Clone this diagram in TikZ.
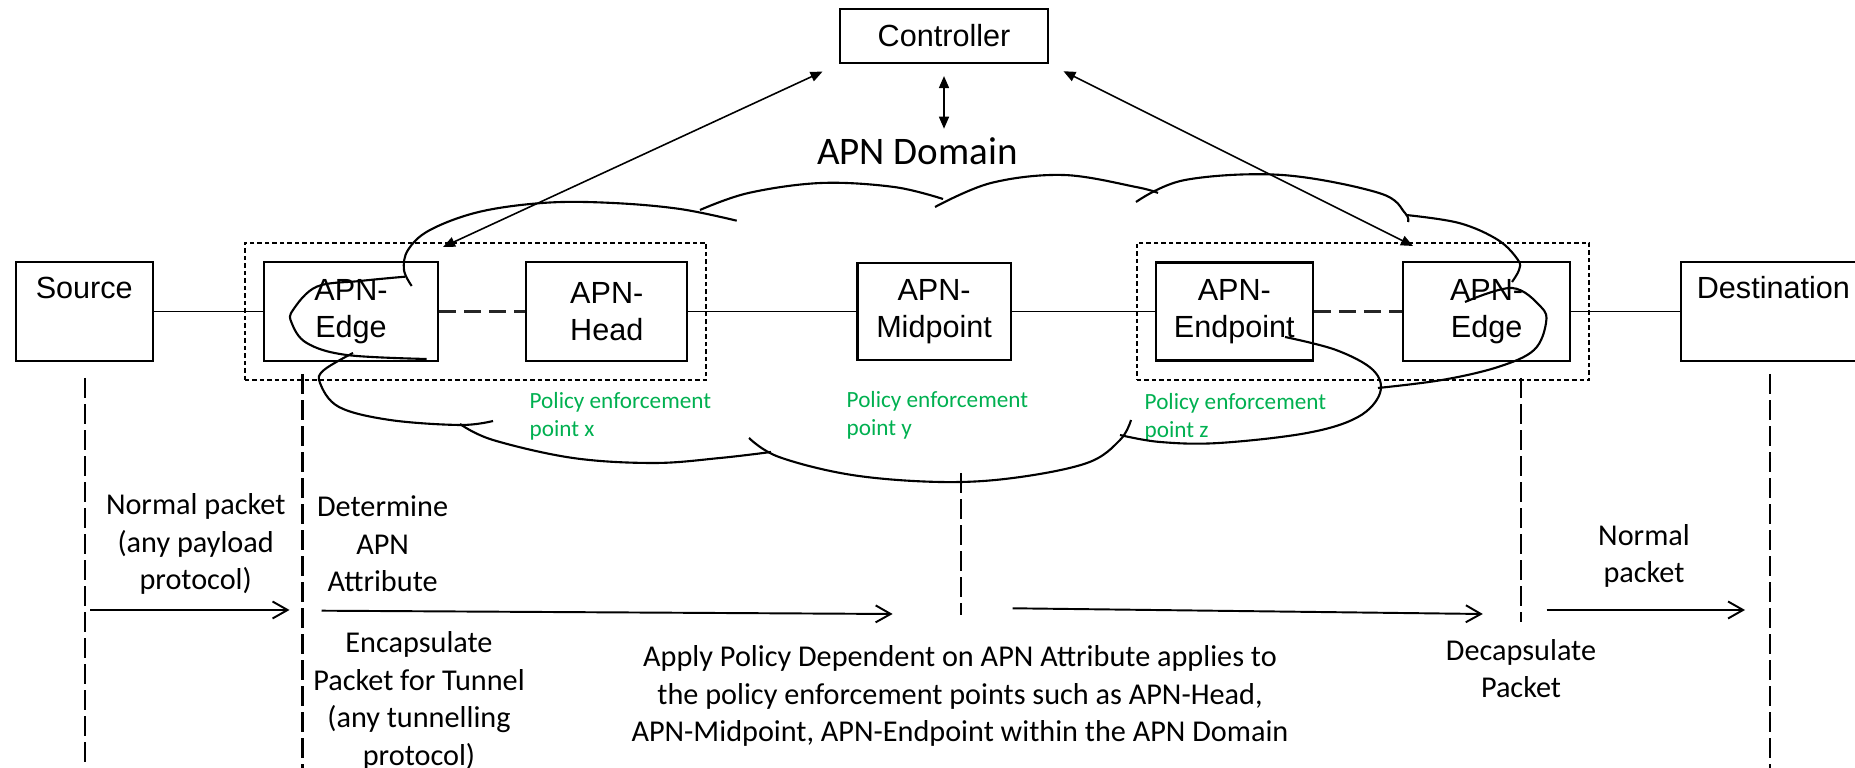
\documentclass[tikz,border=0pt]{standalone}
\usepackage{fontspec}
\setmainfont{Liberation Sans}
\newfontfamily\calibri{Carlito}
\usepackage{tikz}
\usetikzlibrary{positioning, arrows.meta, fit}
\definecolor{pepgreen}{RGB}{0,176,80}

\begin{document}
\begin{tikzpicture}[
        x=0.01cm, y=-0.01cm,
        every node/.style={inner sep=0pt},
        unit/.style={rectangle, draw=black, line width=0.6pt, align=center, minimum height=9.9mm, font=\fontsize{8.7}{10.4}\selectfont},
        group/.style={draw=black, line width=0.55pt, dash pattern=on 0.45mm off 0.3mm, inner sep=1.8mm},
        note/.style={align=center, font=\calibri\fontsize{8.6}{10.7}\selectfont},
        pep/.style={align=left, anchor=west, text=pepgreen, font=\calibri\fontsize{6.6}{8.05}\selectfont},
        link/.style={line width=0.55pt},
        tunnel/.style={line width=0.6pt, draw=black!85, dash pattern=on 1.7mm off 0.8mm},
        ctl/.style={line width=0.45pt, {Triangle[length=1.2mm, width=1mm]}-{Triangle[length=1.2mm, width=1mm]}},
        flow/.style={line width=0.55pt, -{Straight Barb[length=1.5mm, width=1.7mm]}},
        stage/.style={line width=0.6pt, dash pattern=on 2mm off 0.6mm},
        cloudline/.style={line width=0.6pt}
    ]
    \useasboundingbox (0,0) rectangle (1855,768);

    % Nodes
    \node (ctrl) [unit, minimum width=20.8mm, minimum height=5.4mm] at (944,36) {Controller};
    \node (domain) [font=\calibri\fontsize{11.1}{13}\selectfont] at (917.5,151) {APN Domain};

    \node (edgeL) [unit, minimum width=17.4mm] at (351,311.5) {APN-\\Edge};
    \node (source) [unit, minimum width=13.7mm, left=10.9mm of edgeL] {Source\\\strut};
    \node (headL) [unit, minimum width=16.1mm, right=8.6mm of edgeL] {APN-\\Head};
    \node (mid) [unit, minimum width=15.3mm, minimum height=9.7mm, right=16.8mm of headL] {APN-\\Midpoint};
    \node (endp) [unit, minimum width=15.7mm, minimum height=9.8mm, right=14.3mm of mid] {APN-\\Endpoint};
    \node (edgeR) [unit, minimum width=16.7mm, right=8.8mm of endp] {APN-\\Edge};
    \node (dest) [unit, minimum width=18.4mm, right=10.9mm of edgeR] {Destination\\\strut};

    \node (grpL) [group, fit=(edgeL)(headL)] {};
    \node (grpR) [group, fit=(endp)(edgeR)] {};

    \node (pepX) [pep] at (529,416) {Policy enforcement\\point x};
    \node (pepY) [pep] at (846,415) {Policy enforcement\\point y};
    \node (pepZ) [pep] at (1144,417) {Policy enforcement\\point z};

    \node (normA) [note] at (195.7,544) {Normal packet\\(any payload\\protocol)};
    \node (determ) [note] at (382.6,544) {Determine\\APN\\Attribute};
    \node (encap) [note] at (419,701) {Encapsulate\\Packet for Tunnel\\(any tunnelling\\protocol)};
    \node (apply) [note] at (960,696) {Apply Policy Dependent on APN Attribute applies to\\the policy enforcement points such as APN-Head,\\APN-Midpoint, APN-Endpoint within the APN Domain};
    \node (decap) [note] at (1521,668.7) {Decapsulate\\Packet};
    \node (normB) [note] at (1644,556) {Normal\\packet};

    % Links
    \draw [link] (source) -- (edgeL);
    \draw [tunnel] (edgeL) -- (headL);
    \draw [link] (headL) -- (mid);
    \draw [link] (mid) -- (endp);
    \draw [tunnel] (endp) -- (edgeR);
    \draw [link] (edgeR) -- (dest);

    % Controller arrows
    \coordinate (inL) at (443,247);
    \coordinate (inR) at (1413,246);
    \draw [ctl, shorten <=1.8mm] (ctrl.south west) -- (inL);
    \draw [ctl, shorten <=1.6mm] (ctrl.south east) -- (inR);
    \draw [ctl, shorten <=1.2mm, shorten >=0.8mm] (ctrl.south) -- (ctrl.south |- domain.north);

    % APN domain cloud
    \draw [cloudline] plot [smooth, tension=0.6] coordinates {(411.7,286) (404,270) (408,250) (430,230) (480,211.7) (546.7,202.7) (613,203) (680,209) (736.7,220.7)};
    \draw [cloudline] plot [smooth, tension=0.6] coordinates {(405,276.7) (360,281) (316.7,286.7) (293,310) (291.7,323) (306.7,343) (346.7,355) (426.7,359)};
    \draw [cloudline] plot [smooth, tension=0.6] coordinates {(353,353) (324,370) (320,383) (339,407) (390,420) (460,425) (493,421)};
    \draw [cloudline] plot [smooth, tension=0.6] coordinates {(460,424) (493,440) (573,458) (654,463) (720,458) (771,452)};
    \draw [cloudline] plot [smooth, tension=0.6] coordinates {(749,438) (779,457) (852,475) (940,482) (1013,478) (1087,463) (1120,440) (1131,420)};
    \draw [cloudline] plot [smooth, tension=0.6] coordinates {(1285,337) (1336,350) (1373,370) (1380,393) (1358,417) (1307,433) (1219,443) (1160,442) (1120,435)};
    \draw [cloudline] plot [smooth, tension=0.6] coordinates {(1465,302) (1512,288) (1541,307) (1546,323) (1534,350) (1498,367) (1442,380) (1378,388)};
    \draw [cloudline] plot [smooth, tension=0.6] coordinates {(1406,215) (1459,223) (1498,240) (1518,260) (1519,270) (1512,282)};
    \draw [cloudline] plot [smooth, tension=0.6] coordinates {(1136,202) (1185,180) (1282,175) (1379,193) (1405,213) (1408,222)};
    \draw [cloudline] plot [smooth, tension=0.6] coordinates {(935,207) (991,183) (1063.5,175) (1136,187) (1158,193)};
    \draw [cloudline] plot [smooth, tension=0.6] coordinates {(700,210) (748.5,193) (821,183) (894,187) (943,199)};

    % Stages
    \foreach \x/\ya/\yb in {84.8/378/768, 302.5/374/768, 961/473/615, 1521/378/622, 1770/374/768}
        \draw [stage] (\x,\ya) -- (\x,\yb);
    \foreach \xa/\ya/\xb/\yb in {90/610/289.5/610, 321.5/610.7/892.6/614, 1012.7/608.3/1482.8/614, 1546.7/610/1745/610}
        \draw [flow] (\xa,\ya) -- (\xb,\yb);

\end{tikzpicture}
\end{document}
